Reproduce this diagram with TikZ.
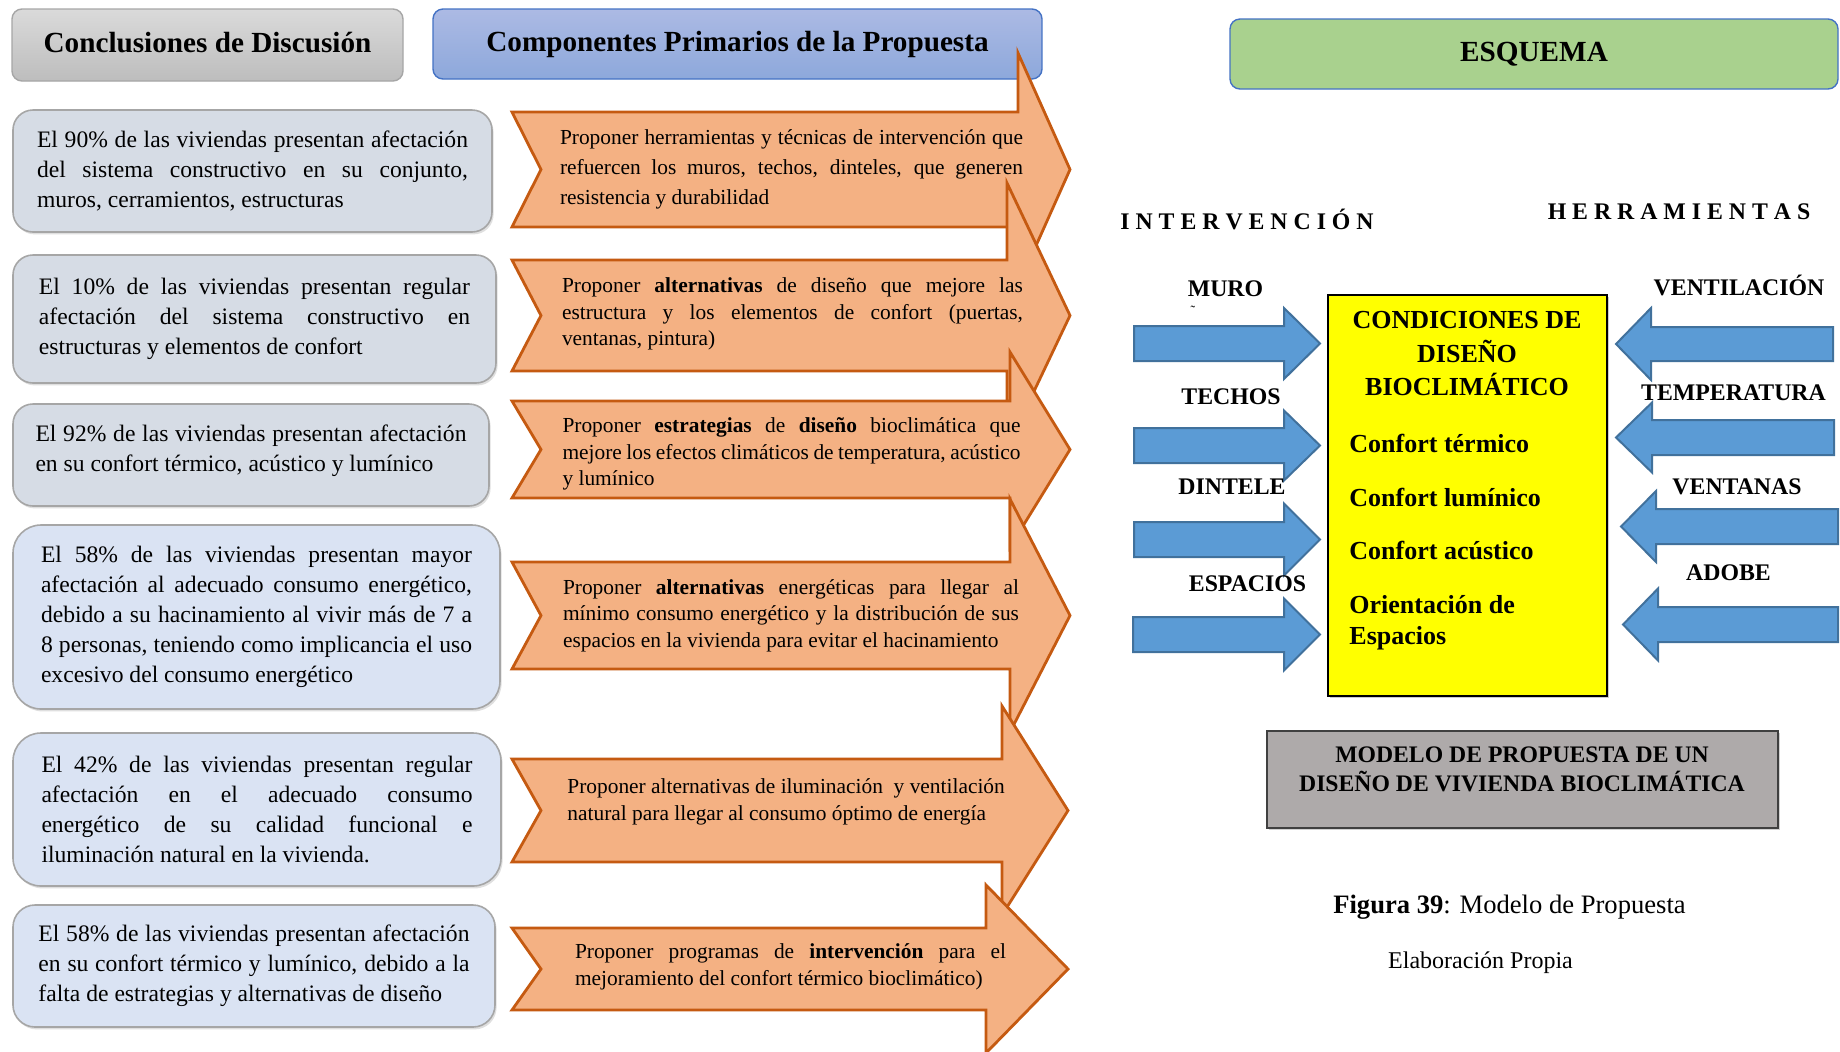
\documentclass[tikz,border=0pt]{standalone}
\usepackage{fontspec}
\setmainfont{Liberation Serif}
\usetikzlibrary{shadows}

\definecolor{orfill}{HTML}{F4B183}
\definecolor{orline}{HTML}{C55A11}
\definecolor{bluefill}{HTML}{5B9BD5}
\definecolor{blueline}{HTML}{41719C}
\definecolor{boxA}{HTML}{D6DCE5}
\definecolor{boxB}{HTML}{DAE3F3}
\definecolor{boxline}{HTML}{A6A6A6}
\definecolor{hdgraytop}{HTML}{DADADA}
\definecolor{hdgraybot}{HTML}{BDBDBD}
\definecolor{hdbluetop}{HTML}{ACBAE4}
\definecolor{hdbluebot}{HTML}{8DA8DB}
\definecolor{hdblueline}{HTML}{4472C4}
\definecolor{esqfill}{HTML}{A9D18E}
\definecolor{modfill}{HTML}{AEAAAA}
\definecolor{yfill}{HTML}{FFFF00}

\newcommand{\fs}[2]{\fontsize{#1}{#2}\selectfont}
% orange notched block arrow: left x, top y, bottom y, head base x, head top y, tip x
\newcommand{\orarrow}[6]{%
  \draw[orarr] (#1,#2) -- (#4,#2) -- (#4,#5) -- (#6,{(#2+#3)/2}) -- (#4,{#2+#3-#5})
    -- (#4,#3) -- (#1,#3) -- ({#1+29},{(#2+#3)/2}) -- cycle;}
% blue block arrow: start x, shaft top, shaft bottom, head base x, tip x, head half height
\newcommand{\blarrow}[6]{%
  \draw[barr] (#1,#2) -- (#4,#2) -- (#4,{(#2+#3)/2-#6}) -- (#5,{(#2+#3)/2})
    -- (#4,{(#2+#3)/2+#6}) -- (#4,#3) -- (#1,#3) -- cycle;}

\begin{document}
\begin{tikzpicture}[x=0.5pt,y=-0.5pt,
  hdr/.style={draw, line width=0.7pt, rounded corners=5pt, inner sep=0pt,
    font=\fs{14.6}{17}\bfseries, text height=0.9em, text depth=0.2em},
  lbox/.style={draw=boxline, line width=0.8pt, inner sep=0pt, text width=215.5pt,
    align=justify, font=\fs{11.8}{15},
    drop shadow={shadow xshift=0.8pt, shadow yshift=-1.2pt, opacity=0.25}},
  orarr/.style={fill=orfill, draw=orline, line width=1.4pt, line join=miter},
  barr/.style={fill=bluefill, draw=blueline, line width=1pt, line join=miter},
  atext/.style={inner sep=0pt, align=justify, font=\fs{10.7}{13.3}},
  lbl/.style={inner sep=0pt, font=\fs{11.9}{14}\bfseries},
  ytext/.style={inner sep=0pt, font=\fs{13}{16}\bfseries},
]
\useasboundingbox (0,0) rectangle (1840,1051);
\fill[white] (0,0) rectangle (1840,1051);

% ---------- headers ----------
\node[hdr, draw=boxline, top color=hdgraytop, bottom color=hdgraybot,
  minimum width=195.5pt, minimum height=36pt] (h1) at (207.5,45) {Conclusiones de Discusión};
\node[hdr, draw=hdblueline, top color=hdbluetop, bottom color=hdbluebot,
  minimum width=304.5pt, minimum height=35pt] (h2) at (737.5,44) {Componentes Primarios de la Propuesta};
\node[hdr, draw=hdblueline, fill=esqfill,
  minimum width=304pt, minimum height=35pt] (h3) at (1534,54) {ESQUEMA};

% ---------- left boxes ----------
\node[lbox, fill=boxA, rounded corners=10pt, minimum width=239.5pt, minimum height=61pt] (b1) at (252.5,171)
  {El 90\% de las viviendas presentan afectación\linebreak del sistema constructivo en su conjunto,\linebreak muros, cerramientos, estructuras};
\node[lbox, fill=boxA, rounded corners=10pt, minimum width=241.5pt, minimum height=64pt] (b2) at (254.5,319)
  {El 10\% de las viviendas presentan regular\linebreak afectación del sistema constructivo en\linebreak estructuras y elementos de confort};
\node[lbox, fill=boxA, rounded corners=10pt, minimum width=238pt, minimum height=51pt] (b3) at (251,455)
  {El 92\% de las viviendas presentan afectación\linebreak en su confort térmico, acústico y lumínico\par\vspace{4pt}\hrule height 0pt};
\node[lbox, fill=boxB, rounded corners=14pt, minimum width=243.5pt, minimum height=92pt] (b4) at (256.5,617)
  {El 58\% de las viviendas presentan mayor\linebreak afectación al adecuado consumo energético,\linebreak debido a su hacinamiento al vivir más de 7 a\linebreak 8 personas, teniendo como implicancia el uso\linebreak excesivo del consumo energético};
\node[lbox, fill=boxB, rounded corners=14pt, minimum width=244pt, minimum height=76.5pt] (b5) at (257,809.5)
  {El 42\% de las viviendas presentan regular\linebreak afectación en el adecuado consumo\linebreak energético de su calidad funcional e\linebreak iluminación natural en la vivienda.};
\node[lbox, fill=boxB, rounded corners=11pt, minimum width=241pt, minimum height=61pt] (b6) at (254,966)
  {El 58\% de las viviendas presentan afectación\linebreak en su confort térmico y lumínico, debido a la\linebreak falta de estrategias y alternativas de diseño};

% ---------- orange arrows ----------
\orarrow{512}{112}{227}{1018}{53}{1070}
\orarrow{512}{260}{371}{1007}{183}{1070}
\orarrow{512}{401}{498}{1010}{352}{1070}
\orarrow{512}{562}{669}{1010}{499}{1070}
\orarrow{512}{759}{862}{1002}{706}{1068}
\orarrow{512}{928}{1010}{986}{885}{1068}

\node[atext, font=\fs{10.7}{15}, text width=231.5pt] (t1) at (791.5,169.5)
  {Proponer herramientas y técnicas de intervención que\linebreak refuercen los muros, techos, dinteles, que generen\linebreak resistencia y durabilidad};
\node[atext, text width=230.5pt] (t2) at (792.5,314)
  {Proponer \textbf{alternativas} de diseño que mejore las\linebreak estructura y los elementos de confort (puertas,\linebreak ventanas, pintura)};
\node[atext, text width=229pt] (t3) at (791.5,454)
  {Proponer \textbf{estrategias} de \textbf{diseño} bioclimática que\linebreak mejore los efectos climáticos de temperatura, acústico\linebreak y lumínico};
\node[atext, text width=228pt] (t4) at (791,615.5)
  {Proponer \textbf{alternativas} energéticas para llegar al\linebreak mínimo consumo energético y la distribución de sus\linebreak espacios en la vivienda para evitar el hacinamiento};
\node[atext, align=left, anchor=west] (t5) at (567,802)
  {Proponer alternativas de iluminación\ \ y ventilación\\natural para llegar al consumo óptimo de energía};
\node[atext, text width=215.5pt] (t6) at (790.5,967)
  {Proponer programas de \textbf{intervención} para el\linebreak mejoramiento del confort térmico bioclimático)};

% ---------- esquema ----------
\node[lbl] (interv) at (1247,219) {I N T E R V E N C I Ó N};
\node[lbl] (herram) at (1679,212) {H E R R A M I E N T A S};

\node[draw=black, line width=0.8pt, fill=yfill, inner sep=0pt,
  minimum width=139.5pt, minimum height=200.5pt,
  drop shadow={shadow xshift=1pt, shadow yshift=-1pt, opacity=0.4}] (ybox) at (1467.5,495.5) {};
\node[inner sep=0pt, align=center, font=\fs{13}{16.75}\bfseries] (ytitle) at (1467,354)
  {CONDICIONES DE\\DISEÑO\\BIOCLIMÁTICO};
\node[ytext, anchor=base west] (c1) at (1349,452) {Confort térmico};
\node[ytext, anchor=base west] (c2) at (1349,506) {Confort lumínico};
\node[ytext, anchor=base west] (c3) at (1349,559) {Confort acústico};
\node[ytext, anchor=base west] (c4) at (1349,613) {Orientación de};
\node[ytext, anchor=base west] (c5) at (1349,644) {Espacios};

% blue arrows (left side, pointing right)
\blarrow{1134}{326}{361}{1284}{1320}{35.5}
\blarrow{1134}{428}{463}{1284}{1320}{35}
\blarrow{1134}{522}{557}{1284}{1320}{36}
\blarrow{1133}{617}{652}{1284}{1320}{36}
% blue arrows (right side, pointing left)
\blarrow{1833}{327}{361}{1651}{1616}{36}
\blarrow{1834}{420}{455}{1652}{1616}{35}
\blarrow{1838}{509}{544}{1656}{1621}{35.5}
\blarrow{1838}{607}{642}{1658}{1623}{36}

\node[lbl] (muro) at (1225.5,289) {MURO};
\node[inner sep=0pt, font=\fs{7}{7}] (tilde) at (1193,311) {˜};
\node[lbl] (techos) at (1231,397) {TECHOS};
\node[lbl] (dintele) at (1232,487) {DINTELE};
\node[lbl] (espacios) at (1247.5,584) {ESPACIOS};
\node[lbl] (ventil) at (1739,285) {VENTILACIÓN};
\node[lbl] (temper) at (1733.5,393) {TEMPERATURA};
\node[lbl] (ventanas) at (1737,487) {VENTANAS};
\node[lbl] (adobe) at (1728.5,573) {ADOBE};

% model box
\node[draw=black!75, fill=modfill, line width=0.8pt, inner sep=0pt,
  minimum width=255.5pt, minimum height=48.5pt,
  drop shadow={shadow xshift=0.8pt, shadow yshift=-0.8pt, opacity=0.35}] (mbox) at (1522.5,779.5) {};
\node[inner sep=0pt, align=center, font=\fs{11.85}{14.75}\bfseries] (mtext) at (1522,769.5)
  {MODELO DE PROPUESTA DE UN\\DISEÑO DE VIVIENDA BIOCLIMÁTICA};

\node[inner sep=0pt, anchor=base, font=\fs{13.3}{16}] (cap) at (1509.5,913) {\textbf{Figura 39}: Modelo de Propuesta};
\node[inner sep=0pt, anchor=base, font=\fs{12}{14}] (elab) at (1480.5,968) {Elaboración Propia};
\end{tikzpicture}
\end{document}
